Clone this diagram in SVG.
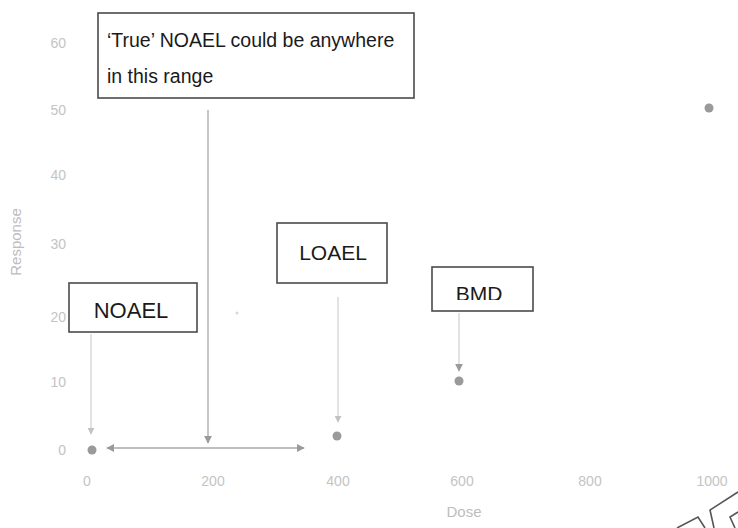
<svg xmlns="http://www.w3.org/2000/svg" width="738" height="528" viewBox="0 0 738 528">
<style>
.box{fill:#fff;stroke:#4a4a4a;stroke-width:1.6}
.lbl{font-family:"Liberation Sans",Arial,sans-serif;fill:#1a1a1a}
.tick{font-family:"Liberation Sans",Arial,sans-serif;font-size:14px;fill:#c4c4c4}
.axl{font-family:"Liberation Sans",Arial,sans-serif;font-size:15px;fill:#bdbdbd}
.dot{fill:#9a9a9a}
.faint{stroke:#cfcfcf;stroke-width:1.2;fill:none}
.mid{stroke:#a8a8a8;stroke-width:1.3;fill:none}
</style>
<defs>
<marker id="ah" viewBox="0 0 10 10" refX="9" refY="5" markerWidth="8" markerHeight="8" orient="auto-start-reverse" markerUnits="userSpaceOnUse">
<path d="M0,0 L10,5 L0,10 z" fill="#9a9a9a"/>
</marker>
<marker id="ahf" viewBox="0 0 10 10" refX="9" refY="5" markerWidth="7" markerHeight="7" orient="auto" markerUnits="userSpaceOnUse">
<path d="M0,0 L10,5 L0,10 z" fill="#c2c2c2"/>
</marker>
<clipPath id="bmdclip"><rect x="432" y="267" width="101" height="33"/></clipPath>
</defs>
<rect width="738" height="528" fill="#fff"/>
<g id="axes">
<text class="tick" x="66" y="48" text-anchor="end">60</text>
<text class="tick" x="66" y="115" text-anchor="end">50</text>
<text class="tick" x="66" y="180" text-anchor="end">40</text>
<text class="tick" x="66" y="249" text-anchor="end">30</text>
<text class="tick" x="66" y="322" text-anchor="end">20</text>
<text class="tick" x="66" y="387" text-anchor="end">10</text>
<text class="tick" x="66" y="455" text-anchor="end">0</text>
<text class="tick" x="87" y="486" text-anchor="middle">0</text>
<text class="tick" x="213" y="486" text-anchor="middle">200</text>
<text class="tick" x="338" y="486" text-anchor="middle">400</text>
<text class="tick" x="462" y="486" text-anchor="middle">600</text>
<text class="tick" x="590" y="486" text-anchor="middle">800</text>
<text class="tick" x="712" y="486" text-anchor="middle">1000</text>
<text class="axl" x="0" y="0" transform="translate(21,242) rotate(-90)" text-anchor="middle">Response</text>
<text class="axl" x="464" y="517" text-anchor="middle">Dose</text>
</g>
<g id="points">
<circle class="dot" cx="92" cy="450" r="4.5"/>
<circle class="dot" cx="337" cy="436" r="4.5"/>
<circle class="dot" cx="459" cy="381" r="4.5"/>
<circle class="dot" cx="709" cy="108" r="4.5"/>
<circle cx="237" cy="313" r="1.5" fill="#d8d8d8"/>
</g>
<g id="connectors">
<line class="mid" x1="208" y1="110" x2="208" y2="443" marker-end="url(#ah)"/>
<line class="mid" x1="107" y1="448" x2="304" y2="448" marker-start="url(#ah)" marker-end="url(#ah)"/>
<line class="faint" x1="91" y1="334" x2="91" y2="434" marker-end="url(#ahf)"/>
<line class="faint" x1="338" y1="297" x2="338" y2="422" marker-end="url(#ahf)"/>
<line class="faint" x1="459" y1="313" x2="459" y2="371" marker-end="url(#ah)"/>
</g>
<g id="true-noael">
<rect class="box" x="98" y="13" width="316" height="85"/>
<text class="lbl" x="107" y="47" font-size="19.5">‘True’ NOAEL could be anywhere</text>
<text class="lbl" x="107" y="83" font-size="19.5">in this range</text>
</g>
<g id="noael">
<rect class="box" x="69" y="283" width="128" height="49"/>
<text class="lbl" x="131" y="318" font-size="22" text-anchor="middle">NOAEL</text>
</g>
<g id="loael">
<rect class="box" x="277" y="223" width="110" height="60"/>
<text class="lbl" x="333" y="260" font-size="21" text-anchor="middle">LOAEL</text>
</g>
<g id="bmd">
<rect class="box" x="432" y="267" width="101" height="44"/>
<text class="lbl" x="479" y="301" font-size="21" text-anchor="middle" clip-path="url(#bmdclip)">BMD</text>
</g>
<g id="corner" fill="none" stroke="#555" stroke-width="1.6">
<polyline points="677,528 698,517 705,528"/>
<polyline points="714,528 710,510 738,492"/>
<polyline points="735,528 730,517 738,512"/>
</g>
</svg>
